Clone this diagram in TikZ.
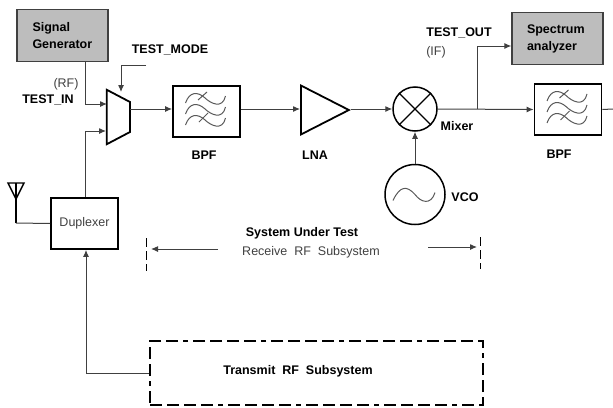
\documentclass[tikz,border=0pt]{standalone}
\usepackage{fontspec}
\setmainfont{Liberation Sans}
\usetikzlibrary{arrows.meta, positioning, shapes.geometric}

\begin{document}
\begin{tikzpicture}[x=1pt, y=1pt, node distance=40pt, >={Latex[length=7pt,width=6pt]},
    font=\fontsize{12.5}{14.5}\selectfont,
    wire/.style={line width=1pt, draw=black!75},
    instbox/.style={draw=black!75, fill=black!26, line width=1.2pt, minimum width=91pt, minimum height=52pt, align=left, font=\fontsize{12.5}{17}\selectfont\bfseries},
    filterbox/.style={draw, line width=1.8pt, minimum width=67pt, minimum height=51pt},
    blockbox/.style={draw, line width=1.8pt, minimum width=67pt, minimum height=51pt},
    roundpart/.style={draw, circle, line width=1.5pt, inner sep=0pt},
    boldlabel/.style={font=\fontsize{12.5}{14.5}\selectfont\bfseries, inner sep=0pt},
    plainlabel/.style={text=black!75, inner sep=0pt},
    limit/.style={line width=1pt, dash pattern=on 9pt off 4pt on 9pt off 4pt},
    wave/.style={line width=1pt, draw=black!65},
    filterglyph/.pic={
        \foreach \row in {11,0,-11} {
            \draw[wave] (-21,\row-2.5) .. controls (-17,\row+9) and (-9,\row+9) .. (-2,\row+3) .. controls (4,\row-3) and (16,\row-9) .. (19,\row+4.5);
        }
        \draw[wave] (-8.5,11.5) -- (0.5,19.5);
        \draw[wave] (-7.5,-10.5) -- (1.5,-1.5);
    }]
    \useasboundingbox (0,0) rectangle (613,-407);

    % Bloques de la cadena de recepcion
    \node [minimum width=23pt, minimum height=54pt, inner sep=0pt] (mux) at (118.5,-117) {};
    \node [filterbox] (bpfin) at (206.5,-111.5) {};
    \node [draw, line width=1.8pt, isosceles triangle, isosceles triangle stretches=true, minimum width=49pt, minimum height=48pt, inner sep=0pt, anchor=lower side] (lna) at (300,-110) {};
    \node [roundpart, minimum size=44pt] (mixer) at (415,-109) {};
    \node [filterbox] (bpfout) at (568,-109.5) {};
    \node [roundpart, minimum size=60pt, below=32pt of mixer] (vco) {};
    \node [blockbox] (duplexer) at (84.5,-223.5) {};
    \node [draw, line width=1.8pt, dash pattern=on 12pt off 5pt on 12pt off 5pt on 12pt off 5pt on 12pt off 5pt on 5pt off 5pt, minimum width=333pt, minimum height=64pt] (transmit) at (316.5,-373) {};

    % Instrumentos
    \node [instbox, text width=60pt] (siggen) at (62.5,-35.5) {Signal\\Generator};
    \node [instbox, text width=61pt] (specan) at (557.5,-38.5) {Spectrum\\analyzer};

    % Dibujos internos
    \draw[line width=1.8pt] (mux.north west) -- (130,-102) -- (130,-132) -- (mux.south west) -- cycle;
    \pic at (bpfin) {filterglyph};
    \pic at (bpfout) {filterglyph};
    \draw[line width=1.2pt] (mixer.45) -- (mixer.225);
    \draw[line width=1.2pt] (mixer.135) -- (mixer.315);
    \begin{scope}[shift={(vco)}]
        \draw[wave] (-22,-6) .. controls (-15,9) and (-8,9) .. (0,0) .. controls (6,-8) and (16,-11) .. (20,2);
    \end{scope}

    % Antena
    \coordinate (anttop) at (16,-183);
    \coordinate (anttip) at (16,-199);
    \coordinate (antfoot) at (16,-223);
    \draw[line width=1.4pt] (8,-183) -- (24,-183) -- (anttip) -- cycle;
    \draw[line width=1.4pt] (anttop) -- (antfoot);

    % Etiquetas
    \node [boldlabel] (testmodelabel) at (170,-50) {TEST\_MODE};
    \node [plainlabel] (rflabel) at (66,-84) {(RF)};
    \node [boldlabel] (testinlabel) at (48,-100) {TEST\_IN};
    \node [boldlabel] (bpfinlabel) at (204,-155) {BPF};
    \node [boldlabel] (lnalabel) at (315,-155) {LNA};
    \node [boldlabel] (mixerlabel) at (457,-126) {Mixer};
    \node [boldlabel] (vcolabel) at (465,-197) {VCO};
    \node [boldlabel] (testoutlabel) at (459,-33) {TEST\_OUT};
    \node [plainlabel] (iflabel) at (436,-52) {(IF)};
    \node [boldlabel] (bpfoutlabel) at (559,-154) {BPF};
    \node [plainlabel] (duplexerlabel) at (duplexer) {Duplexer};
    \node [boldlabel] (sutlabel) at (302,-233) {System Under Test};
    \node [plainlabel] (rxlabel) at (311,-252) {Receive\ \ RF\ \ Subsystem};
    \node [boldlabel] (txlabel) at (298,-371) {Transmit\ \ RF\ \ Subsystem};

    % Puntos de union
    \coordinate (muxtop) at (107,-104);
    \coordinate (muxlow) at (106,-131);
    \coordinate (muxout) at (130,-109);
    \coordinate (modestart) at (146,-65);
    \coordinate (modeend) at (121,-92);
    \coordinate (branch) at (477,-109);
    \coordinate (exit) at (613,-109);
    \coordinate (rxleft) at (151,-249);
    \coordinate (rxleftstart) at (218,-249);
    \coordinate (rxright) at (477,-247);
    \coordinate (rxrightstart) at (428,-247);
    \coordinate (limitlefttop) at (146,-238);
    \coordinate (limitleftlow) at (146,-271);
    \coordinate (limitrighttop) at (480,-237);
    \coordinate (limitrightlow) at (480,-269);

    % Conexiones
    \draw[->, wire] (85,0 |- siggen.south) |- (muxtop);
    \draw[->, wire] (85,0 |- duplexer.north) |- (muxlow);
    \draw[->, wire] (modestart) -| (modeend);
    \draw[->, wire] (muxout) -- (bpfin.west |- muxout);
    \draw[->, wire] (bpfin.east |- muxout) -- (lna.west |- muxout);
    \draw[->, wire] (lna.east |- mixer) -- (mixer.west);
    \draw[->, wire] (mixer.east) -- (bpfout.west);
    \draw[->, wire] (branch) |- (specan.west |- 0,-46);
    \draw[wire] (bpfout.east) -- (exit);
    \draw[->, wire] (vco.north) -- (mixer.south);
    \draw[wire] (antfoot) -- (duplexer.west);
    \draw[->, wire] (transmit.west) -| (86,0 |- duplexer.south);
    \draw[->, wire] (rxleftstart) -- (rxleft);
    \draw[->, wire] (rxrightstart) -- (rxright);
    \draw[limit] (limitlefttop) -- (limitleftlow);
    \draw[limit] (limitrighttop) -- (limitrightlow);
\end{tikzpicture}
\end{document}
